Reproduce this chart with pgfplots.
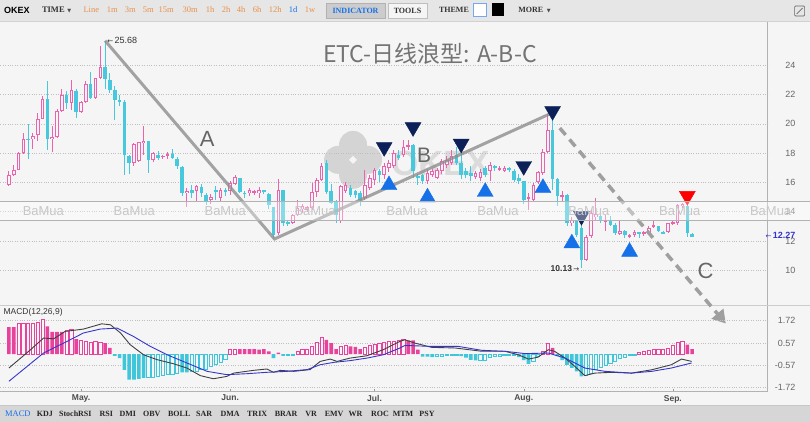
\documentclass[border=0pt]{standalone}
\usepackage{pgfplots}
\pgfplotsset{compat=1.18}
\usepackage{pgfplotstable}
\usetikzlibrary{arrows.meta}
\usepackage{fontspec}
\setmainfont{Liberation Sans}
\newfontfamily\cjk{Noto Sans CJK SC}
\newfontfamily\tbf{Liberation Serif}
\newfontfamily\dv{DejaVu Sans}
\definecolor{bgc}{HTML}{F5F5F5}
\definecolor{tbtop}{HTML}{E6E6E6}
\definecolor{tbbot}{HTML}{D6D6D6}
\definecolor{pinkc}{HTML}{E964AC}
\definecolor{cyanc}{HTML}{48C8DC}
\definecolor{hpink}{HTML}{E8439C}
\definecolor{hcyan}{HTML}{40C6DA}
\definecolor{navy}{HTML}{0B2058}
\definecolor{tblue}{HTML}{1670E8}
\definecolor{lgray}{HTML}{8E8E8E}
\definecolor{orng}{HTML}{E8904A}
\definecolor{dea}{HTML}{3535CC}

\pgfplotstableread{
i o h l c
0 15.84 16.75 15.73 16.53
1 16.53 17.21 16.41 16.87
2 16.87 18.05 16.82 18.01
3 18.01 19.34 17.97 18.93
5 18.93 19.38 18.29 19.20
6 19.27 20.75 18.81 20.34
7 20.34 21.90 20.30 21.71
9 18.93 19.84 18.06 19.11
10 19.11 20.98 19.04 20.87
11 20.87 22.35 20.80 21.94
13 21.44 23.00 20.94 22.31
15 20.80 21.55 20.75 21.49
16 21.49 22.93 21.44 22.70
18 21.78 23.15 21.70 23.15
19 23.15 25.33 23.09 23.91
26 17.33 18.70 17.10 18.60
27 17.44 18.75 17.40 18.74
28 18.70 19.84 17.90 18.86
30 17.51 18.10 17.40 18.01
32 17.72 17.90 17.60 17.83
33 17.80 18.10 17.60 17.92
37 15.27 15.60 14.35 15.43
39 15.38 15.84 14.70 15.72
42 14.81 15.20 14.50 15.00
44 14.93 15.60 14.70 15.45
46 15.38 16.06 15.15 15.95
47 15.90 16.50 15.80 16.36
50 15.27 15.60 15.10 15.45
51 15.27 15.50 15.15 15.38
52 15.27 15.70 14.95 15.45
56 12.54 16.22 12.42 15.45
59 13.22 13.85 13.15 13.79
60 13.79 14.80 13.70 14.24
61 14.18 14.50 13.90 14.36
62 14.13 14.40 14.00 14.31
63 14.24 15.95 14.13 15.31
64 15.31 16.30 15.00 16.18
65 16.18 17.30 16.10 17.09
69 13.33 15.84 13.22 15.72
70 15.38 16.00 15.30 15.84
74 14.93 16.86 14.80 15.84
75 15.60 16.50 15.50 16.29
76 16.18 16.97 15.80 16.86
78 16.52 17.30 16.20 17.09
79 16.97 17.50 16.70 17.30
80 17.09 18.20 17.00 18.00
82 17.88 18.90 17.70 18.45
83 18.45 18.90 18.20 18.56
87 16.06 16.90 15.90 16.63
88 16.52 16.90 16.40 16.75
89 16.29 17.00 16.20 16.86
90 16.75 17.60 16.60 17.43
91 17.20 17.80 17.00 17.55
92 17.32 18.20 17.20 17.77
97 16.40 16.80 16.20 16.63
98 16.29 16.90 16.10 16.68
100 16.75 17.40 16.10 17.20
102 16.86 17.10 16.80 16.97
103 16.80 17.10 16.70 16.97
108 14.90 15.30 14.13 15.00
109 14.80 15.95 14.70 15.80
110 16.00 16.80 15.90 16.70
111 16.63 18.30 16.50 18.10
112 18.10 20.66 18.00 19.60
115 15.04 15.40 14.70 15.15
117 13.20 13.60 13.00 13.45
120 10.70 12.40 10.60 12.26
121 12.31 14.13 12.20 13.90
122 13.60 14.93 13.45 13.85
124 13.33 13.79 12.65 13.45
127 12.49 13.45 12.42 12.70
129 12.30 12.50 12.20 12.42
130 12.42 12.76 12.30 12.60
132 12.49 12.65 12.35 12.58
133 12.54 12.99 12.42 12.88
134 13.00 13.33 12.88 13.10
137 12.60 13.25 12.55 13.20
138 13.17 13.40 13.10 13.27
139 13.20 14.54 13.10 14.47
140 14.36 14.60 14.25 14.54
}\upc

\pgfplotstableread{
i o h l c
4 18.98 20.02 17.60 18.90
8 21.71 22.93 18.24 18.93
12 21.94 22.24 20.98 21.44
14 22.24 22.35 20.41 20.80
17 22.70 23.54 21.67 21.78
20 23.91 25.68 22.40 23.09
21 23.00 23.50 22.10 22.30
22 22.29 22.58 20.25 21.62
23 21.62 22.00 21.20 21.53
24 21.49 21.62 16.53 17.90
25 17.83 17.90 16.55 17.33
29 18.81 18.85 16.64 17.55
31 17.90 18.13 17.50 17.67
34 17.97 18.30 17.60 17.67
35 17.60 17.70 16.90 17.10
36 17.05 17.10 15.10 15.27
38 15.49 15.84 14.93 15.27
40 15.70 15.90 15.00 15.27
41 15.15 15.27 14.47 14.70
43 15.45 15.72 14.81 15.38
45 15.49 15.60 15.10 15.38
48 16.29 16.30 15.27 15.31
49 15.30 15.40 14.95 15.20
53 15.45 15.50 15.20 15.31
54 15.20 15.30 14.20 14.47
55 14.31 14.35 12.13 12.42
57 15.45 15.50 13.00 13.22
58 13.30 13.45 12.99 13.20
66 17.30 17.50 15.20 15.31
67 15.38 15.90 14.50 14.58
68 14.70 14.80 13.20 13.79
71 15.60 15.80 15.00 15.15
72 15.38 15.50 14.90 15.15
73 15.27 15.40 14.36 14.81
77 16.75 16.90 16.00 16.52
81 17.90 18.20 17.50 17.66
84 18.56 18.60 16.30 16.75
85 16.45 16.60 15.80 16.30
86 16.50 16.60 15.90 16.06
93 17.88 18.40 17.20 17.32
94 17.32 18.20 16.20 16.52
95 16.75 17.00 16.30 16.52
96 16.63 17.10 16.10 16.41
99 16.97 17.10 16.40 16.52
101 17.09 17.20 16.80 16.97
104 16.97 17.05 16.70 16.86
105 16.75 16.90 16.00 16.18
106 16.30 16.60 15.90 16.06
107 16.06 16.10 14.50 14.80
113 19.60 20.30 15.50 16.20
114 16.20 16.30 14.40 15.04
116 15.15 15.20 13.00 13.20
118 13.33 13.40 12.30 12.42
119 12.88 13.10 10.13 10.70
123 13.67 13.79 13.22 13.33
125 13.45 13.67 12.99 13.10
126 13.10 13.22 12.42 12.54
128 12.65 12.76 12.20 12.42
131 12.60 12.60 12.20 12.54
135 13.00 13.05 12.60 12.65
136 12.60 12.65 12.50 12.54
141 14.36 14.60 12.30 12.54
142 12.47 12.54 12.27 12.27
}\dnc

\pgfplotsset{candle/.style={draw=none, mark=none, forget plot,
  error bars/.cd, y dir=both, y explicit, error mark=none}}

\begin{document}
\begin{tikzpicture}[x=1pt,y=1pt]
\fill[bgc] (0,0) rectangle (810,422);
% top toolbar
\fill[tbtop] (0,401) rectangle (810,422);
\draw[black!18] (0,401) -- (810,401);
% bottom toolbar
\fill[tbbot] (0,0) rectangle (810,16);
\draw[black!22] (0,16) -- (810,16);
% panel separator
\draw[black!20] (0,116) -- (810,116);
% OKEX watermark logo (behind)
\fill[black!17] (353,277) circle (14);
\fill[black!17] (338,262) circle (14);
\fill[black!17] (368,262) circle (14);
\fill[black!17] (353,247) circle (14);
\fill[bgc] (353,266) -- (357,262) -- (353,258) -- (349,262) -- cycle;
\node[anchor=west, inner sep=0, text=black!14, font=\bfseries\fontsize{35}{35}\selectfont] at (391,258) {OKEX};

\begin{axis}[
  at={(0pt,117pt)}, anchor=south west, scale only axis,
  width=768pt, height=283pt,
  xmin=-1.765, xmax=157.7, ymin=7.64, ymax=26.96,
  clip=false,
  axis x line=none, axis y line*=right,
  y axis line style={draw=black!30},
  ytick={10,12,14,16,18,20,22,24},
  yticklabels={10,12,14,16,18,20,22,24},
  ymajorgrids, grid style={dotted, black!25, line width=0.6pt},
  ytick style={draw=none},
  yticklabel style={anchor=east, inner sep=0pt, xshift=28pt, font=\fontsize{9}{9}\selectfont, text=black!60},
]
% wicks
\addplot[candle, error bar style={draw=pinkc, line width=1pt}]
  table[x=i, y expr={(\thisrow{h}+\thisrow{l})/2}, y error expr={(\thisrow{h}-\thisrow{l})/2}] \upc;
\addplot[candle, error bar style={draw=cyanc, line width=1pt}]
  table[x=i, y expr={(\thisrow{h}+\thisrow{l})/2}, y error expr={(\thisrow{h}-\thisrow{l})/2}] \dnc;
% bodies
\addplot[candle, error bar style={draw=pinkc, line width=3.6pt}]
  table[x=i, y expr={(\thisrow{o}+\thisrow{c})/2}, y error expr={max((\thisrow{c}-\thisrow{o})/2,0.04)}] \upc;
\addplot[candle, error bar style={draw=bgc, line width=1.6pt}]
  table[x=i, y expr={(\thisrow{o}+\thisrow{c})/2}, y error expr={max((\thisrow{c}-\thisrow{o})/2-0.068,0)}] \upc;
\addplot[candle, error bar style={draw=cyanc, line width=3.6pt}]
  table[x=i, y expr={(\thisrow{o}+\thisrow{c})/2}, y error expr={max((\thisrow{o}-\thisrow{c})/2,0.04)}] \dnc;
% wave lines
\addplot[draw=lgray, line width=3pt, opacity=0.8] coordinates {(20,25.68) (55.2,12.13) (112.3,20.66)};
\addplot[draw=lgray!85, line width=3.5pt, dash pattern=on 9pt off 6pt, -{Triangle[length=13pt,width=15pt]}] coordinates {(114.5,19.71) (149.0,6.35)};
% triangles
\addplot[only marks, mark=triangle*, mark size=9.2pt, mark options={fill=navy, draw=navy, rotate=180}]
  coordinates {(78,18.41) (84,19.77) (94,18.64) (107,17.11) (113,20.87) (119,13.70)};
\addplot[only marks, mark=triangle*, mark size=9.2pt, mark options={fill=red, draw=red, rotate=180}]
  coordinates {(141,15.07)};
\addplot[only marks, mark=triangle*, mark size=9.2pt, mark options={fill=tblue, draw=tblue}]
  coordinates {(79,15.81) (87,14.97) (99,15.35) (111,15.62) (117,11.83) (129,11.26)};
% labels
\node[text=black!60, font=\fontsize{22}{22}\selectfont] at (axis cs:41.2,18.96) {A};
\node[text=black!60, font=\fontsize{21}{21}\selectfont] at (axis cs:86.3,17.88) {B};
\node[text=black!60, font=\fontsize{22}{22}\selectfont] at (axis cs:144.8,9.97) {C};
\node[anchor=west, inner sep=0pt, xshift=2pt, text=black!80, font=\fontsize{9}{9}\selectfont] at (axis cs:20,25.68) {{\dv\fontsize{7}{7}\selectfont ←}\,25.68};
\node[anchor=east, inner sep=0pt, xshift=-2pt, text=black!80, font=\bfseries\fontsize{8.5}{9}\selectfont] at (axis cs:119,10.13) {10.13\,{\dv\mdseries\fontsize{7}{7}\selectfont →}};
\node[anchor=east, inner sep=0pt, xshift=28pt, text=dea, font=\bfseries\fontsize{9}{9}\selectfont] at (axis cs:157.7,12.40) {{\dv\mdseries\fontsize{7}{7}\selectfont ←}\,12.27};
\end{axis}

\begin{axis}[
  at={(0pt,30pt)}, anchor=south west, scale only axis,
  width=768pt, height=86pt,
  xmin=-1.765, xmax=157.7, ymin=-1.92, ymax=2.49,
  axis x line*=bottom, axis y line*=right,
  axis line style={draw=black!30},
  xtick={15,46,76,107,138}, xticklabels={May.,Jun.,Jul.,Aug.,Sep.},
  ytick={-1.72,-0.57,0.57,1.72}, yticklabels={-1.72,-0.57,0.57,1.72},
  ymajorgrids, grid style={dotted, black!25, line width=0.6pt},
  ytick style={draw=none}, xtick style={draw=black!40},
  tick align=inside, major tick length=3pt,
  xticklabel style={font=\bfseries\fontsize{8.5}{9}\selectfont, text=black!70},
  yticklabel style={anchor=east, inner sep=0pt, xshift=28pt, font=\fontsize{9}{9}\selectfont, text=black!60},
]
\addplot[ybar, bar width=3.6pt, bar shift=0pt, fill=hpink, draw=none] coordinates {
(0,1.39)(1,1.39)(8,1.43)(9,1.14)(10,1.14)(11,1.14)(14,0.78)(20,0.57)(21,0.32)(48,0.26)(49,0.26)(50,0.26)(51,0.26)(52,0.23)(53,0.26)(54,0.15)(56,0.08)(66,0.74)(67,0.57)(68,0.26)(71,0.4)(72,0.37)(73,0.26)(83,0.71)(84,0.71)(85,0.23)(113,0.32)(141,0.49)(142,0.26)};
\addplot[ybar, bar width=3.2pt, bar shift=0pt, fill=bgc, draw=hpink, line width=0.8pt] coordinates {
(2,1.6)(3,1.6)(4,1.6)(5,1.6)(6,1.63)(7,1.77)(12,1.22)(13,1.26)(15,0.71)(16,0.66)(17,0.6)(18,0.66)(19,0.62)(46,0.26)(47,0.26)(60,0.15)(61,0.23)(62,0.26)(63,0.4)(64,0.6)(65,0.88)(69,0.4)(70,0.44)(74,0.37)(75,0.44)(76,0.49)(77,0.57)(78,0.6)(79,0.64)(80,0.68)(81,0.71)(82,0.74)(111,0.15)(112,0.54)(131,0.09)(132,0.15)(133,0.2)(134,0.23)(135,0.26)(136,0.26)(137,0.32)(138,0.44)(139,0.6)(140,0.66)};
\addplot[ybar, bar width=3.6pt, bar shift=0pt, fill=hcyan, draw=none] coordinates {
(22,-0.08)(23,-0.2)(24,-0.8)(25,-1.31)(26,-1.31)(27,-1.27)(28,-1.22)(36,-0.93)(37,-0.93)(55,-0.2)(57,-0.08)(58,-0.08)(86,-0.12)(87,-0.12)(88,-0.15)(94,-0.1)(95,-0.17)(96,-0.29)(97,-0.32)(106,-0.15)(107,-0.3)(108,-0.5)(114,-0.1)(115,-0.3)(116,-0.55)(117,-0.7)(118,-0.88)(119,-1.14)};
\addplot[ybar, bar width=3.2pt, bar shift=0pt, fill=bgc, draw=hcyan, line width=0.8pt] coordinates {
(29,-1.17)(30,-1.17)(31,-1.14)(32,-1.1)(33,-1.05)(34,-1.05)(35,-1.0)(38,-0.88)(39,-0.88)(40,-0.8)(41,-0.76)(42,-0.62)(43,-0.54)(44,-0.42)(45,-0.25)(59,-0.05)(89,-0.12)(90,-0.1)(91,-0.08)(92,-0.05)(93,-0.05)(98,-0.3)(99,-0.3)(100,-0.15)(101,-0.12)(102,-0.1)(103,-0.08)(104,-0.05)(105,-0.05)(109,-0.37)(110,-0.1)(120,-1.1)(121,-0.97)(122,-0.8)(123,-0.7)(124,-0.6)(125,-0.45)(126,-0.37)(127,-0.2)(128,-0.15)(129,-0.08)(130,-0.06)};
% DIF
\addplot[draw=black!75, line width=0.9pt] coordinates {
(0,-0.71)(4.5,0.23)(7.2,0.83)(9.3,0.79)(11.7,1.17)(15.5,1.29)(19.3,1.56)(21.1,1.51)(23.2,1.09)(25.2,0.49)(28,-0.03)(30.8,-0.28)(34.2,-0.49)(37,-0.71)(39.8,-1.1)(42.5,-1.26)(45.3,-1.14)(46.7,-0.97)(50.8,-0.83)(53.6,-0.76)(55,-0.93)(56.4,-0.83)(59.2,-0.88)(62.6,-0.79)(64.7,-0.37)(66.8,-0.25)(68.2,-0.37)(70.9,-0.2)(74.4,-0.08)(77.8,0.23)(81.3,0.66)(82.3,0.74)(84.4,0.57)(87.9,0.35)(92.7,0.32)(98.3,0.15)(103.1,0.15)(105.9,-0.03)(108,-0.25)(110,-0.15)(112.1,0.23)(113.4,0.15)(115.6,-0.2)(117.6,-0.62)(119.7,-1.1)(121.8,-0.97)(125.3,-0.93)(129.4,-0.97)(133.6,-0.8)(137.7,-0.54)(139.8,-0.25)(141.9,-0.37)};
% DEA
\addplot[draw=dea, line width=0.9pt] coordinates {
(0,-1.39)(7.2,0.06)(12.1,0.66)(15.5,1.09)(19,1.29)(22.5,1.34)(25.9,0.91)(29.4,0.4)(32.9,-0.03)(37,-0.45)(41.2,-0.88)(45.3,-1.05)(49.5,-1.0)(53.6,-0.93)(57.8,-0.88)(62,-0.79)(64.7,-0.54)(67.5,-0.42)(70.9,-0.33)(74.4,-0.2)(77.8,-0.03)(81.3,0.32)(82.3,0.45)(87.9,0.4)(93.4,0.4)(98.3,0.2)(103.1,0.15)(107.3,0.03)(112.1,0.06)(115.6,-0.2)(119.7,-0.71)(123.9,-0.88)(129.4,-0.97)(133.6,-0.88)(137.7,-0.71)(141.9,-0.45)};
\end{axis}

% BaMua band
\fill[white, opacity=0.35] (0,201.7) rectangle (810,220.3);
\draw[black!30, line width=0.8pt] (0,220.3) -- (810,220.3);
\draw[black!30, line width=0.8pt] (0,201.7) -- (810,201.7);
\foreach \xx in {43,134,225,315,407,498,589,680,771}
  \node[text=black!22, font=\fontsize{13}{13}\selectfont] at (\xx,211) {BaMua};

% title
\node[text=black!55, font=\cjk\fontsize{23}{23}\selectfont] at (430,368) {ETC-日线浪型: A-B-C};
\node[anchor=west, text=black!80, inner sep=0pt, font=\fontsize{8.5}{9}\selectfont] at (3,109) {MACD(12,26,9)};

% top toolbar text
\node[font=\bfseries\fontsize{9}{9}\selectfont] at (16.5,412) {OKEX};
\node[font=\tbf\bfseries\fontsize{8.5}{9}\selectfont, text=black!80] at (53,412) {TIME};
\node[font=\dv\fontsize{5}{5}\selectfont, text=black!70] at (69,411) {▼};
\foreach \xx/\tt in {91/Line,112/1m,130/3m,148/5m,166/15m,190/30m,210/1h,226/2h,241/4h,257/6h,275/12h,310/1w}
  \node[font=\tbf\fontsize{8.5}{9}\selectfont, text=orng] at (\xx,412) {\tt};
\node[font=\tbf\fontsize{8.5}{9}\selectfont, text=tblue] at (293,412) {1d};
\draw[fill=black!20, draw=black!30] (326,404) rectangle (385,419);
\node[font=\tbf\bfseries\fontsize{8}{9}\selectfont, text=tblue] at (355.5,411.5) {INDICATOR};
\draw[fill=black!4, draw=black!25] (388,404) rectangle (427,419);
\node[font=\tbf\bfseries\fontsize{8}{9}\selectfont, text=black!80] at (407.5,411.5) {TOOLS};
\node[font=\tbf\bfseries\fontsize{8}{9}\selectfont, text=black!80] at (454,412) {THEME};
\draw[fill=white, draw=tblue!60] (473,405.5) rectangle (486,418.5);
\fill[black] (492,405.5) rectangle (504,418.5);
\node[font=\tbf\bfseries\fontsize{8}{9}\selectfont, text=black!80] at (531,412) {MORE};
\node[font=\dv\fontsize{5}{5}\selectfont, text=black!70] at (549,411) {▼};
\draw[black!60, line width=0.6pt, rounded corners=1pt] (795,406) rectangle (805,416);
\draw[black!60, line width=0.6pt] (797,408) -- (803,414);

% bottom toolbar text
\node[font=\tbf\fontsize{8.5}{9}\selectfont, text=tblue] at (17.5,8) {MACD};
\foreach \xx/\tt in {44.5/KDJ,75/StochRSI,106/RSI,127.5/DMI,151.5/OBV,179/BOLL,204/SAR,230/DMA,257/TRIX,286/BRAR,311/VR,334/EMV,355.5/WR,380/ROC,403/MTM,427/PSY}
  \node[font=\tbf\bfseries\fontsize{8}{9}\selectfont, text=black!85] at (\xx,8) {\tt};
\end{tikzpicture}
\end{document}
